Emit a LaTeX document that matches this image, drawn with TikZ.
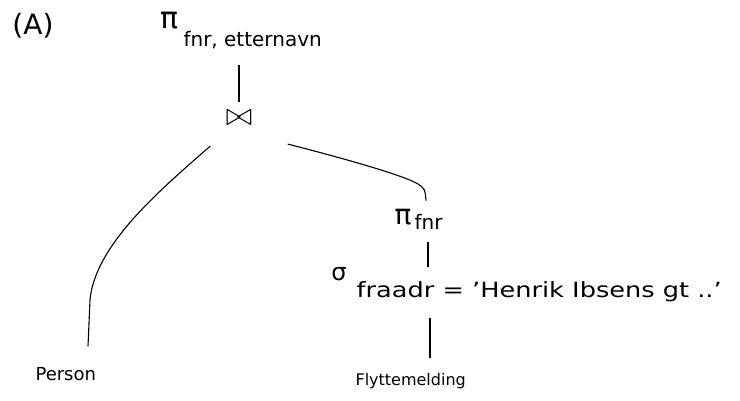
\documentclass[tikz,border=0pt]{standalone}
\usepackage{fontspec}
\setmainfont{DejaVu Sans}
\begin{document}
\begin{tikzpicture}[x=1pt,y=-1pt,line width=1.1pt,
  lbl/.style={inner sep=0pt,anchor=base west,font=\fontsize{18}{22}\selectfont},
  sub/.style={inner sep=0pt,anchor=base west,font=\fontsize{20}{24}\selectfont},
  greek/.style={inner sep=0pt,font=\fontsize{30}{34}\selectfont}]
\useasboundingbox (0,0) rectangle (740,401);
\node[inner sep=0pt,font=\fontsize{28}{32}\selectfont] (A) at (33,26) {(A)};
\node[greek] (pitop) at (170,21) {π};
\node[sub] (toptxt) at (183,47) {fnr, etternavn};
\node[inner sep=0pt,font=\fontsize{24}{28}\selectfont] (join) at (239,118) {\scalebox{1.3}{$\bowtie$}};
\node[greek,font=\fontsize{28}{32}\selectfont] (pifnr) at (403,217) {π};
\node[sub] (fnrtxt) at (414,230) {fnr};
\node[inner sep=0pt,font=\fontsize{24}{28}\selectfont] (sigma) at (339,274) {σ};
\node[sub,font=\fontsize{21}{25}\selectfont,xscale=1.22] (seltxt) at (356,298) {fraadr = ʼHenrik Ibsens gt ..ʼ};
\node[lbl] (person) at (35,380) {Person};
\node[lbl,font=\fontsize{16}{20}\selectfont] (flytt) at (355,385) {Flyttemelding};
% connectors
\draw ([yshift=-18pt]toptxt.base -| join.north) -- ([yshift=8pt]join.north);
\draw ([shift={(-15,20)}]join.south west) .. controls (160,190) and (95,245) .. (90,300) -- ([yshift=20pt]person.north -| 88,0);
\draw ([shift={(35,18)}]join.south east) .. controls (350,160) and (405,176) .. (418,184) .. controls (425,189) .. ([yshift=8pt]pifnr.north -| 426,0);
\draw ([yshift=-12pt]fnrtxt.base -| 428,0) -- ([yshift=14pt]seltxt.north -| 428,0);
\draw ([yshift=-20pt]seltxt.base -| 430,0) -- ([yshift=14pt]flytt.north -| 430,0);
\end{tikzpicture}
\end{document}
